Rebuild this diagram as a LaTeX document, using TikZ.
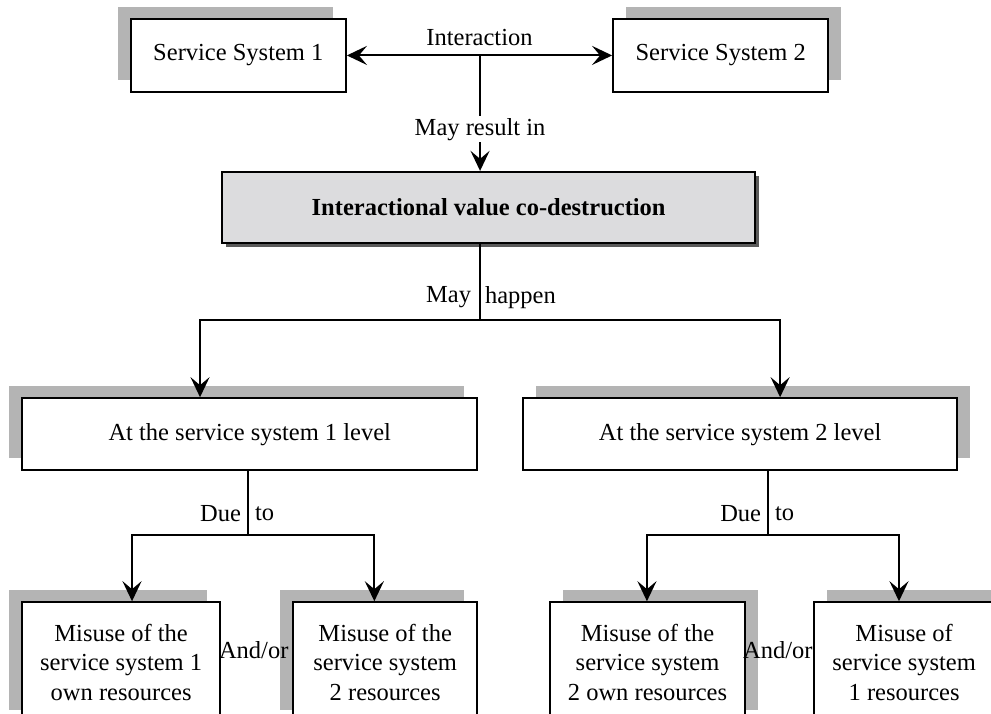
\documentclass[tikz,border=0pt]{standalone}
\usepackage{fontspec}
\setmainfont{Liberation Serif}
\usetikzlibrary{arrows.meta,shadows}
\begin{document}
\begin{tikzpicture}[font=\fontsize{12.2pt}{14.5pt}\selectfont, >={Stealth[length=10pt,width=9.5pt,inset=4pt]}]
% Define colors
\definecolor{colorshadow}{HTML}{B4B4B4}
\definecolor{colorcore}{HTML}{DCDCDE}
\definecolor{colordark}{HTML}{5A5A5A}
\tikzset{
  box/.style={draw, line width=1.1pt, fill=white, align=center, inner sep=2pt},
  shadowleft/.style={drop shadow={shadow xshift=-6.5pt, shadow yshift=6pt, fill=colorshadow, opacity=1}},
  shadowright/.style={drop shadow={shadow xshift=6.5pt, shadow yshift=6pt, fill=colorshadow, opacity=1}},
  link/.style={line width=1pt},
}
\clip (0,0) rectangle (17.34,-12.48);
  %%%%%%%%%% Top row
  \node[box, shadowleft, minimum width=3.76cm, minimum height=1.28cm] (ss1) at (4.17,-0.97) {Service System 1};
  \node[box, shadowright, minimum width=3.76cm, minimum height=1.28cm] (ss2) at (12.61,-0.97) {Service System 2};
  \draw[link, <->] (ss1) -- (ss2) node[midway, above, inner sep=4.5pt] {Interaction};
  \coordinate (top) at (8.4,-0.97);
  %%%%%%%%%% Core box
  \node[box, fill=colorcore, drop shadow={shadow xshift=2pt, shadow yshift=-2pt, fill=colordark, opacity=1},
        minimum width=9.33cm, minimum height=1.24cm] (core) at (8.55,-3.63) {\textbf{Interactional value co-destruction}};
  \draw[link, ->] (top) -- (top |- core.north) node[pos=0.64, fill=white, inner sep=1pt] {May result in};
  %%%%%%%%%% Levels
  \node[box, shadowleft, minimum width=7.96cm, minimum height=1.26cm] (lvl1) at (4.37,-7.6) {At the service system 1 level};
  \node[box, shadowright, minimum width=7.6cm, minimum height=1.26cm] (lvl2) at (12.95,-7.6) {At the service system 2 level};
  \coordinate (fork) at (8.4,-5.6);
  \coordinate (forkL) at (3.5,-5.6);
  \coordinate (forkR) at (13.65,-5.6);
  \draw[link] (core.south -| fork) -- (fork) node[pos=0.7, left, inner sep=4pt] {May} node[pos=0.7, right, inner sep=2pt] {happen};
  \draw[link, ->] (fork) -- (forkL) -- (forkL |- lvl1.north);
  \draw[link, ->] (fork) -- (forkR) -- (forkR |- lvl2.north);
  %%%%%%%%%% Misuse boxes
  \node[box, shadowleft, minimum width=3.47cm, minimum height=2.1cm] (mis1) at (2.12,-11.59) {Misuse of the\\service system 1\\own resources};
  \node[box, shadowleft, minimum width=3.22cm, minimum height=2.1cm] (mis2) at (6.74,-11.59) {Misuse of the\\service system\\2 resources};
  \node[box, shadowright, minimum width=3.41cm, minimum height=2.1cm] (mis3) at (11.33,-11.59) {Misuse of the\\service system\\2 own resources};
  \node[box, shadowright, minimum width=3.15cm, minimum height=2.1cm] (mis4) at (15.82,-11.59) {Misuse of\\service system\\1 resources};
  \node[inner sep=0pt] (andA) at (4.44,-11.375) {And/or};
  \node[inner sep=0pt] (andB) at (13.61,-11.375) {And/or};
  % Due to, left
  \coordinate (dueA) at (4.34,-9.36);
  \coordinate (dueAL) at (2.31,-9.36);
  \coordinate (dueAR) at (6.55,-9.36);
  \draw[link] (lvl1.south -| dueA) -- (dueA) node[pos=0.66, left, inner sep=3pt] {Due} node[pos=0.66, right, inner sep=3pt] {to};
  \draw[link, ->] (dueA) -- (dueAL) -- (dueAL |- mis1.north);
  \draw[link, ->] (dueA) -- (dueAR) -- (dueAR |- mis2.north);
  % Due to, right
  \coordinate (dueB) at (13.44,-9.36);
  \coordinate (dueBL) at (11.32,-9.36);
  \coordinate (dueBR) at (15.73,-9.36);
  \draw[link] (lvl2.south -| dueB) -- (dueB) node[pos=0.66, left, inner sep=3pt] {Due} node[pos=0.66, right, inner sep=3pt] {to};
  \draw[link, ->] (dueB) -- (dueBL) -- (dueBL |- mis3.north);
  \draw[link, ->] (dueB) -- (dueBR) -- (dueBR |- mis4.north);
\end{tikzpicture}
\end{document}
